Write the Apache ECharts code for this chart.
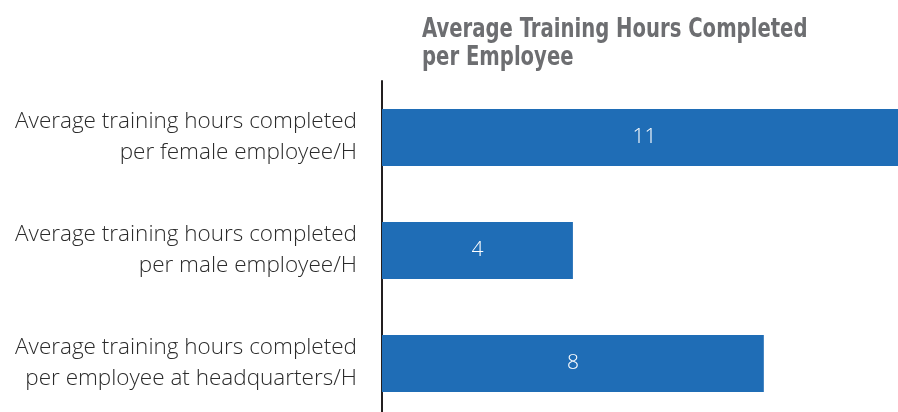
<!DOCTYPE html>
<html>
<head>
<meta charset="utf-8">
<script src="https://cdn.jsdelivr.net/npm/echarts@6/dist/echarts.min.js"></script>
<style>
  html, body { margin: 0; padding: 0; background: #fff; }
  #container { width: 898px; height: 412px; }
</style>
</head>
<body>
<div id="container"></div>
<script>
// chart data
var categories = [
    'Average training hours completed\nper female employee/H',
    'Average training hours completed\nper male employee/H',
    'Average training hours completed\nper employee at headquarters/H'
];
var hours = [11, 4, 8];
var chartTitle = 'Average Training Hours Completed\nper Employee';

function graficoBarras(){
    var dom = document.getElementById('container');
    var myChart = echarts.init(dom);
    var option;
    option = {
        animation: false,
        // title drawn as graphic text so it can be squeezed like a condensed face
        graphic: [{
            type: 'text',
            x: 422,
            y: 16,
            scaleX: 0.84,
            style: {
                text: chartTitle,
                font: 'bold 26px "DejaVu Sans Condensed", sans-serif',
                lineHeight: 28,
                fill: '#6d6e71',
                verticalAlign: 'top'
            }
        }],
        grid: {
            left: 382,
            right: -9,
            top: 81,
            bottom: -8,
            outerBoundsMode: 'none',
            containLabel: false
        },
        xAxis: {
            type: 'value',
            min: 0,
            max: 11,
            show: false
        },
        yAxis: {
            type: 'category',
            data: categories,
            inverse: true,
            axisLine: { show: true, lineStyle: { color: '#231f20', width: 2 } },
            axisTick: { show: false },
            axisLabel: {
                margin: 25,
                fontFamily: '"Open Sans", sans-serif',
                fontWeight: 300,
                fontSize: 22.5,
                lineHeight: 31,
                color: '#2b2b2b',
                align: 'right'
            }
        },
        series: [{
            type: 'bar',
            data: hours,
            barWidth: 57,
            itemStyle: { color: '#1f6db6' },
            label: {
                show: true,
                position: 'inside',
                color: '#ffffff',
                fontFamily: '"Open Sans", sans-serif',
                fontWeight: 300,
                fontSize: 21
            }
        }]
    };
    if (option && typeof option === 'object') {
        myChart.setOption(option);
    }
}
graficoBarras();
</script>
</body>
</html>
